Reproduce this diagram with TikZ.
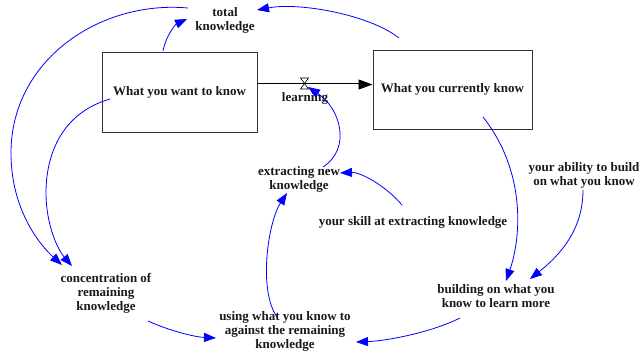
\documentclass[tikz,border=0pt]{standalone}
\usepackage{fontspec}
\setmainfont{Liberation Serif}
\usetikzlibrary{arrows.meta,calc}
\definecolor{lnk}{RGB}{0,0,255}
\definecolor{ink}{RGB}{25,25,25}
\tikzset{
  lbl/.style={font=\fontsize{13}{14}\selectfont\bfseries, align=center, inner sep=1pt, text=ink},
  stock/.style={draw=black!80, line width=1pt, minimum width=155pt, minimum height=80pt, inner sep=0pt,
                font=\fontsize{13}{14}\selectfont\bfseries, text=ink},
  link/.style={draw=lnk, line width=0.8pt, -{Triangle[length=12pt,width=9pt]}, fill=none},
  pipe/.style={draw=black, line width=0.7pt, double distance=2pt},
}
\begin{document}
\begin{tikzpicture}[x=1pt,y=-1pt]
\useasboundingbox (0,0) rectangle (642,356);
% stocks
\node[stock] (box1) at (179.5,92) {What you want to know};
\node[stock, minimum width=159pt, minimum height=79pt] (box2) at (452.5,89.5) {What you currently know};
% labels
\node[lbl] (tk) at (225,20) {total\\knowledge};
\node[lbl] (learn) at (305,98) {learning};
\node[lbl] (crk) at (106,293) {concentration of\\remaining\\knowledge};
\node[lbl] (using) at (285,331) {using what you know to\\against the remaining\\knowledge};
\node[lbl] (extr) at (299,179) {extracting new\\knowledge};
\node[lbl] (skill) at (413,222) {your skill at extracting knowledge};
\node[lbl] (ability) at (584,175) {your ability to build\\on what you know};
\node[lbl] (build) at (496,296) {building on what you\\know to learn more};
% flow pipe
\draw[pipe] ([yshift=7.5pt]box1.east) -- ([xshift=-12pt,yshift=5pt]box2.west);
\draw[line width=0.7pt, -{Triangle[length=14pt,width=10pt]}] ([xshift=-14pt,yshift=5pt]box2.west) -- ([yshift=5pt]box2.west);
\coordinate (valve) at (304.5,83.5);
\filldraw[fill=white, draw=black, line width=0.6pt] ($(valve)+(-4,-5.5)$) -- ++(8,0) -- ++(-8,11) -- ++(8,0) -- cycle;
% links
\draw[link] ($(box1)+(-16.5,-41)$) .. controls (166,35) and (176,24) .. ($(tk)+(-38,-1)$);
\draw[link] ($(box2)+(-53.5,-51.5)$) .. controls (370,15) and (300,2) .. ($(tk)+(32,-10)$);
\draw[link] ($(tk)+(-37,-12)$) .. controls (100,0) and (11,60) .. (11,153) .. controls (11,210) and (40,245) .. ($(crk)+(-44,-28)$);
\draw[link] ($(box1)+(-69.5,7)$) .. controls (65,112) and (46,150) .. (46,193) .. controls (46,225) and (58,250) .. ($(crk)+(-34,-27)$);
\draw[link] ($(crk)+(42,28)$) .. controls (170,331) and (195,337) .. ($(using)+(-69,7)$);
\draw[link] ($(build)+(-36,22)$) .. controls (430,333) and (385,341) .. ($(using)+(71,11)$);
\draw[link] ($(using)+(-8,-14)$) .. controls (258,290) and (268,222) .. ($(extr)+(-12,14)$);
\draw[link] ($(extr)+(24,-12)$) .. controls (352,148) and (340,108) .. ($(valve)+(3.5,3.5)$);
\draw[link] ($(skill)+(-11,-17)$) .. controls (385,185) and (360,172) .. ($(extr)+(41,-6)$);
\draw[link] ($(box2)+(30.5,27.5)$) .. controls (525,170) and (522,235) .. ($(build)+(10,-15)$);
\draw[link] ($(ability)+(-1,15)$) .. controls (583,230) and (560,255) .. ($(build)+(34,-17)$);
\end{tikzpicture}
\end{document}
